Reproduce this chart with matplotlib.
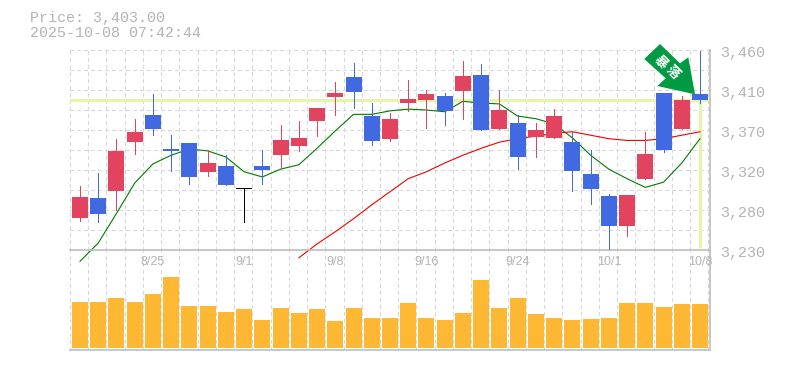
import matplotlib
matplotlib.use("Agg")
import matplotlib.pyplot as plt
from matplotlib.patches import Polygon

plt.rcParams["font.family"] = ["Liberation Mono", "DejaVu Sans Mono"]

TITLE = ["Price: 3,403.00", "2025-10-08 07:42:44"]
LAST_PRICE = 3403
ARROW_TEXT = ["暴", "落"]

opens = [3267, 3290, 3298, 3354, 3385, 3346, 3353, 3320, 3327, 3300, 3327, 3339,
         3350, 3378, 3406, 3429, 3384, 3358, 3399, 3402, 3407, 3413, 3431, 3369,
         3376, 3360, 3359, 3354, 3317, 3292, 3258, 3312, 3410, 3369, 3409]
closes = [3291, 3271, 3344, 3366, 3369, 3344, 3314, 3330, 3305, 3300, 3322, 3356,
          3359, 3393, 3410, 3412, 3355, 3381, 3404, 3409, 3390, 3430, 3368, 3391,
          3337, 3368, 3384, 3321, 3300, 3258, 3293, 3340, 3345, 3402, 3403]
highs = [3304, 3318, 3358, 3381, 3409, 3362, 3353, 3345, 3339, 3301, 3345, 3374,
         3378, 3393, 3423, 3445, 3399, 3387, 3425, 3414, 3410, 3447, 3444, 3414,
         3385, 3376, 3392, 3366, 3345, 3294, 3293, 3366, 3410, 3407, 3459]
lows = [3263, 3262, 3276, 3340, 3362, 3321, 3306, 3315, 3305, 3262, 3306, 3325,
        3344, 3361, 3385, 3393, 3351, 3355, 3390, 3370, 3374, 3381, 3368, 3369,
        3323, 3337, 3359, 3298, 3283, 3231, 3246, 3312, 3343, 3369, 3399]
ma_short = [3217, 3238, 3272, 3307, 3329, 3339, 3346, 3344, 3337, 3320, 3314, 3323,
            3328, 3347, 3367, 3386, 3386, 3390, 3392, 3391, 3389, 3401, 3399, 3398,
            3384, 3381, 3375, 3359, 3339, 3323, 3312, 3302, 3308, 3330, 3358]
ma_long = [3221, 3237, 3251, 3266, 3282, 3297, 3312, 3320, 3330, 3339, 3347, 3354,
           3358, 3361, 3364, 3366, 3362, 3358, 3356, 3356, 3358, 3362, 3366]
volumes = [46, 46, 50, 46, 54, 71, 42, 42, 36, 39, 28, 40, 35, 39, 27, 40, 30, 30,
           45, 30, 28, 35, 68, 40, 50, 34, 30, 28, 29, 30, 45, 45, 41, 44, 44]
date_pos = [4, 9, 14, 19, 24, 29, 34]
date_labels = ["8/25", "9/1", "9/8", "9/16", "9/24", "10/1", "10/8"]
price_ticks = [3460, 3414, 3368, 3322, 3276, 3230]
price_labels = ["3,460", "3,410", "3,370", "3,320", "3,280", "3,230"]

RED = "#e2435f"
BLUE = "#4169e1"
BLACK = "#000000"
ORANGE = "#ffb833"
PALE = "#e2f5a8"
GRID = "#d8d8d8"
AXIS = "#bdbdbd"
TEXT = "#b4b4b4"
PX = 0.72  # one pixel in points at dpi 100
W, H = 785, 370


def px_axes(left, top, right, bottom):
    return fig.add_axes([left / W, 1 - bottom / H, (right - left) / W, (bottom - top) / H])


fig = plt.figure(figsize=(7.85, 3.70), dpi=100)
ax = px_axes(70, 50, 710, 250)
vol = px_axes(70, 250, 710, 350)
ax.set_zorder(2)
ax.patch.set_visible(False)

xs = list(range(len(opens)))
for a in (ax, vol):
    a.set_xlim(-0.548, 34.549)
    a.set_xticks([])
    a.set_yticks([])
    for s in ("left", "top"):
        a.spines[s].set_visible(False)
    for s in ("right", "bottom"):
        a.spines[s].set_color(AXIS)
        a.spines[s].set_linewidth(1.2)
    for i in range(36):
        a.axvline(i - 0.548, color=GRID, lw=PX, ls=(0, (3, 3)), zorder=0, antialiased=False)
ax.set_ylim(3230, 3460)
vol.set_ylim(-2, 98)
for p in range(3253, 3461, 23):
    ax.axhline(p, color=GRID, lw=PX, ls=(0, (3, 3)), zorder=0, antialiased=False, clip_on=False)

# last price guide lines
ax.axhline(LAST_PRICE, color=PALE, lw=2.2, zorder=1)
ax.plot([xs[-1], xs[-1]], [3232, LAST_PRICE], color=PALE, lw=2.2, zorder=1, solid_capstyle="butt")

ax.plot(xs, ma_short, color="#007a00", lw=0.8, zorder=2, clip_on=False)
ax.plot(xs[12:], ma_long, color="#f00000", lw=0.8, zorder=2, clip_on=False)

for i in xs:
    c = RED if closes[i] > opens[i] else BLUE if closes[i] < opens[i] else BLACK
    ax.plot([i, i], [lows[i], highs[i]], color=c, lw=PX, zorder=3, solid_capstyle="butt", antialiased=False)
    bottom = min(opens[i], closes[i])
    height = max(abs(closes[i] - opens[i]), 1.5)
    ax.bar(i, height, 0.877, bottom=bottom, color=c, lw=0, zorder=3)

vol.bar(xs, volumes, 0.877, color=ORANGE, lw=0, zorder=3)

for t, s in zip(price_ticks, price_labels):
    ax.annotate(s, (1, t), xycoords=ax.get_yaxis_transform(), xytext=(7.2, -2.4),
                textcoords="offset points", color=TEXT, fontsize=10.8, va="center", ha="left",
                annotation_clip=False)
for x, s in zip(date_pos, date_labels):
    ax.annotate(s, (x, 0), xycoords=ax.get_xaxis_transform(), xytext=(0, -8.6),
                textcoords="offset points", color=TEXT, fontsize=9, va="center", ha="center",
                family="Liberation Sans", annotation_clip=False)

fig.text(29.5 / W, 1 - 18 / H, TITLE[0], color=TEXT, fontsize=10.8, va="center", ha="left")
fig.text(29.5 / W, 1 - 33 / H, TITLE[1], color=TEXT, fontsize=10.8, va="center", ha="left")

# signal arrow
arrow = [(660, 44), (680, 63.3), (688.3, 57.3), (695, 94.3), (657.3, 86), (665.7, 78.3), (644.3, 59)]
fig.add_artist(Polygon([(x / W, 1 - y / H) for x, y in arrow], closed=True, transform=fig.transFigure,
                       facecolor="#009944", edgecolor="none", zorder=10))
for s, (x, y) in zip(ARROW_TEXT, [(661, 61.7), (672.7, 72.3)]):
    fig.text(x / W, 1 - y / H, s, color="white", fontsize=9.5, rotation=-45, fontweight="bold",
             family=["Noto Sans CJK JP", "DejaVu Sans"], ha="center", va="center",
             rotation_mode="anchor", zorder=11)

plt.savefig("out.png", dpi=100)
